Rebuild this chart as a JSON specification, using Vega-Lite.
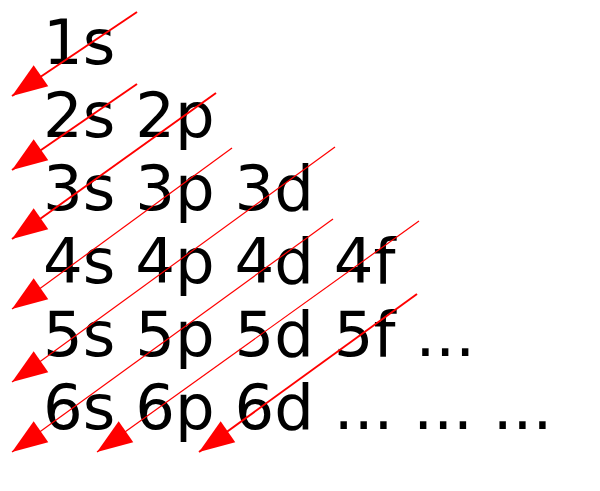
{
  "$schema": "https://vega.github.io/schema/vega-lite/v6.json",
  "width": 600,
  "height": 491,
  "autosize": {"type": "fit", "contains": "padding"},
  "padding": 0,
  "background": "white",
  "config": {"view": {"stroke": null}},
  "datasets": {
    "rows": [
      {"label": "1s", "x": 43, "y": 64},
      {"label": "2s 2p", "x": 43, "y": 137},
      {"label": "3s 3p 3d", "x": 43, "y": 210},
      {"label": "4s 4p 4d 4f", "x": 43, "y": 283},
      {"label": "5s 5p 5d 5f ...", "x": 43, "y": 356},
      {"label": "6s 6p 6d ... ... ...", "x": 43, "y": 429}
    ],
    "arrows": [
      {"id": 1, "x": 137, "y": 12, "x2": 12, "y2": 96},
      {"id": 2, "x": 137, "y": 84, "x2": 12, "y2": 170},
      {"id": 3, "x": 216, "y": 93, "x2": 12, "y2": 239},
      {"id": 4, "x": 232, "y": 148, "x2": 12, "y2": 309},
      {"id": 5, "x": 335, "y": 147, "x2": 12, "y2": 382},
      {"id": 6, "x": 333, "y": 219, "x2": 12, "y2": 452},
      {"id": 7, "x": 419, "y": 221, "x2": 97, "y2": 452},
      {"id": 8, "x": 417, "y": 294, "x2": 199, "y2": 452}
    ]
  },
  "encoding": {
    "x": {"type": "quantitative", "scale": {"domain": [0, 600]}, "axis": null},
    "y": {"type": "quantitative", "scale": {"domain": [0, 491], "reverse": true}, "axis": null}
  },
  "layer": [
    {
      "data": {"name": "rows"},
      "mark": {"type": "text", "align": "left", "baseline": "alphabetic", "font": "DejaVu Sans", "fontSize": 62.5, "color": "black"},
      "encoding": {
        "x": {"field": "x", "type": "quantitative"},
        "y": {"field": "y", "type": "quantitative"},
        "text": {"field": "label"}
      }
    },
    {
      "data": {"name": "arrows"},
      "transform": [{"filter": {"field": "id", "oneOf": [1, 2, 3, 8]}}],
      "mark": {"type": "rule", "color": "red", "strokeWidth": 2},
      "encoding": {
        "x": {"field": "x", "type": "quantitative"},
        "y": {"field": "y", "type": "quantitative"},
        "x2": {"field": "x2"},
        "y2": {"field": "y2"}
      }
    },
    {
      "data": {"name": "arrows"},
      "transform": [{"filter": {"field": "id", "oneOf": [4, 5, 6, 7]}}],
      "mark": {"type": "rule", "color": "red", "strokeWidth": 1.2},
      "encoding": {
        "x": {"field": "x", "type": "quantitative"},
        "y": {"field": "y", "type": "quantitative"},
        "x2": {"field": "x2"},
        "y2": {"field": "y2"}
      }
    },
    {
      "data": {"name": "arrows"},
      "mark": {"type": "point", "shape": "M0,0L-0.36,-1L0.36,-1Z", "filled": true, "color": "red", "opacity": 1, "size": 5000, "angle": 55},
      "encoding": {
        "x": {"field": "x2", "type": "quantitative"},
        "y": {"field": "y2", "type": "quantitative"}
      }
    }
  ]
}
